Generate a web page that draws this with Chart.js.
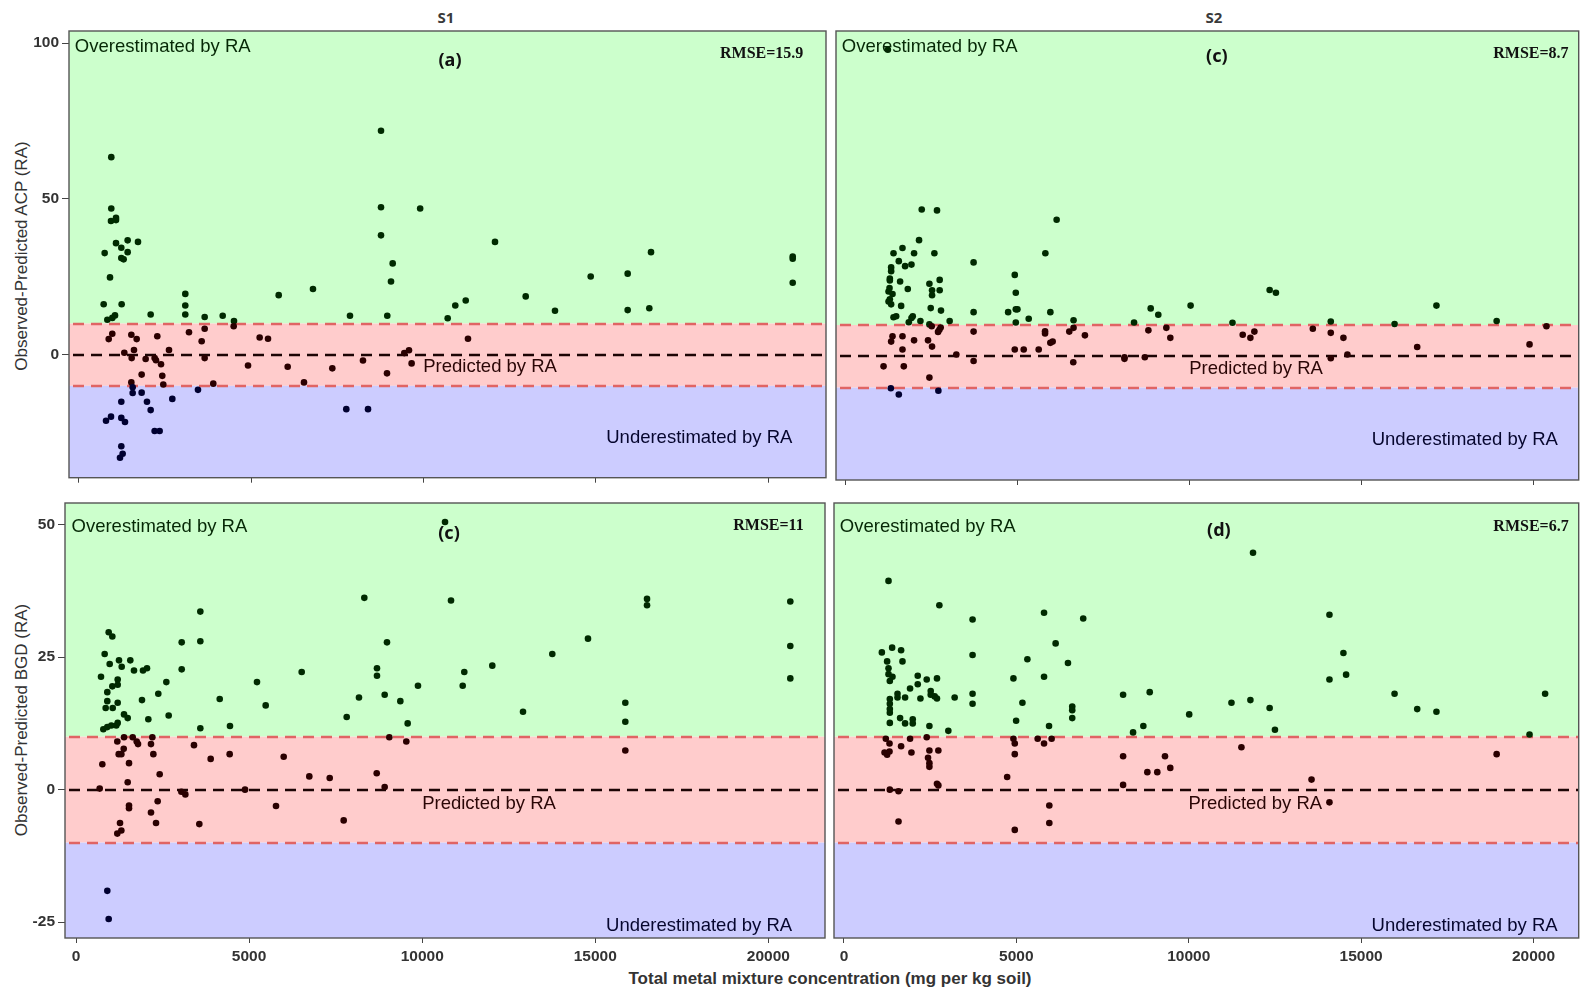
<!DOCTYPE html>
<html>
<head>
<meta charset="utf-8">
<title>Observed - predicted residuals, S1 / S2</title>
<script src="https://cdn.jsdelivr.net/npm/chart.js@4.4.1/dist/chart.umd.min.js"></script>
<style>
    html, body { margin: 0; padding: 0; background: #fff; }
    body { width: 1582px; height: 989px; position: relative; overflow: hidden; font-family: "Liberation Sans", Arial, sans-serif; }
    canvas { position: absolute; }
    .txt { position: absolute; white-space: nowrap; line-height: 1; transform: translate(-50%, -50%); }
    .strip { font-family: "Noto Sans", sans-serif; font-weight: bold; font-size: 15px; color: #3a3a3a; }
    .ytitle { font-size: 17px; color: #333; transform: translate(-50%, -50%) rotate(-90deg); }
    .xtitle { font-size: 17px; font-weight: bold; color: #333; }
</style>
</head>
<body>

<div class="txt strip" style="left:446px; top:17px;">S1</div>
<div class="txt strip" style="left:1214px; top:17px;">S2</div>
<div class="txt ytitle" style="left:21px; top:256px;">Observed-Predicted ACP (RA)</div>
<div class="txt ytitle" style="left:21px; top:720px;">Observed-Predicted BGD (RA)</div>
<div class="txt xtitle" style="left:830px; top:978px;">Total metal mixture concentration (mg per kg soil)</div>

<canvas id="panel-a" width="830" height="490" style="left:0; top:0;"></canvas>
<canvas id="panel-c" width="752" height="490" style="left:830px; top:0;"></canvas>
<canvas id="panel-b" width="829" height="499" style="left:0; top:490px;"></canvas>
<canvas id="panel-d" width="753" height="499" style="left:829px; top:490px;"></canvas>

<script>
// 축 눈금
const xTicks = [0, 5000, 10000, 15000, 20000];
const acpTicks = [100, 50, 0];
const bgdTicks = [50, 25, 0, -25];
const bandLines = [-10, 0, 10];

// S1, ACP  [concentration, observed - predicted]
const s1Acp = [
    [937, 63.4], [937, 46.9], [928, 42.9], [1074, 43.9], [1074, 43.2], [745, 32.6], [1074, 35.8],
    [1228, 34.3], [1412, 36.7], [1712, 36.2], [1412, 32.9], [1228, 31.0], [1296, 30.6], [900, 24.8],
    [716, 16.2], [1238, 16.2], [822, 11.2], [967, 11.8], [1045, 12.6], [2080, 12.9], [3085, 19.5],
    [3085, 15.8], [3085, 12.9], [3647, 12.1], [4170, 12.5], [4498, 10.8], [5795, 19.1], [6790, 21.1],
    [7864, 12.5], [8764, 71.9], [8764, 47.3], [8764, 38.3], [9103, 29.3], [9054, 23.5], [8946, 12.5],
    [9900, 46.9], [12072, 36.2], [10699, 11.7], [10920, 15.8], [11222, 17.4], [12963, 18.7],
    [13813, 14.1], [14849, 25.1], [15922, 26.0], [15922, 14.3], [16599, 32.9], [16550, 14.9],
    [20711, 31.5], [20711, 30.8], [20711, 23.1],
    [11288, 5.1], [9652, -2.8], [9440, 0.5], [9576, 1.4], [966, 6.7], [862, 5.0], [1519, 6.4],
    [1674, 5.0], [2272, 5.9], [1315, 0.6], [1596, 1.5], [1529, -1.1], [1934, -1.4], [2195, -1.1],
    [2234, -1.8], [2380, -3.1], [2417, -6.8], [2446, -9.6], [2612, 1.5], [1818, -6.4], [1519, -8.9],
    [3192, 7.2], [3560, 4.3], [3647, 8.3], [3647, -1.1], [3897, -9.3], [4489, 9.1], [4905, -3.5],
    [5243, 5.5], [5485, 5.1], [6056, -3.9], [6529, -8.9], [7351, -4.4], [8241, -1.9], [8938, -6.0],
    [1558, -10.5], [1558, -12.3], [1818, -12.2], [1228, -15.1], [1973, -15.1], [2080, -17.8],
    [2708, -14.2], [3453, -11.3], [784, -21.2], [929, -19.9], [1228, -20.3], [1335, -21.6],
    [2195, -24.5], [2340, -24.5], [1228, -29.4], [1267, -31.8], [1190, -33.1], [7757, -17.5], [8387, -17.5]
];

// S2, ACP
const s2Acp = [
    [1218, 97.9], [2204, 46.9], [2648, 46.6], [6128, 43.6], [2126, 37.1], [1644, 34.6], [1383, 32.9],
    [1981, 32.9], [2572, 32.9], [1537, 30.4], [1720, 28.8], [1905, 29.3], [1314, 28.4], [1314, 27.2],
    [1276, 24.8], [1276, 24.2], [1575, 23.9], [1267, 21.8], [1238, 20.7], [1354, 19.9], [1276, 18.2],
    [1238, 17.5], [1314, 16.6], [1798, 21.5], [1605, 16.1], [5800, 32.9], [3712, 30.0], [4910, 26.0],
    [4940, 20.3], [2427, 23.2], [2504, 21.1], [2504, 19.5], [2726, 24.4], [2726, 21.1], [2465, 15.4],
    [2764, 14.6], [3712, 14.1], [4717, 14.1], [4940, 15.0], [4988, 15.0], [5316, 12.0], [4940, 10.8],
    [5945, 14.1], [6620, 11.5], [8380, 10.8], [8864, 15.3], [9085, 13.3], [10025, 16.2], [1383, 12.5],
    [1460, 12.8], [1827, 10.9], [1905, 12.2], [1943, 12.8], [2166, 11.3], [3016, 11.3], [12324, 21.2],
    [12507, 20.3], [17176, 16.2], [11243, 10.7], [14102, 11.1], [15958, 10.3], [18927, 11.3], [20376, 9.6],
    [1354, 6.4], [1644, 6.4], [1314, 4.7], [1981, 5.1], [2387, 5.1], [1644, 2.2], [2504, 3.1],
    [2427, 10.2], [2494, 9.6], [2755, 9.2], [2717, 8.5], [2678, 7.8], [1093, -3.2], [1682, -3.2],
    [2427, -6.8], [3210, 0.6], [3712, 7.9], [3712, -1.5], [4910, 2.2], [5171, 2.2], [5606, 2.2],
    [5791, 8.0], [5791, 7.3], [5945, 4.3], [6012, 4.7], [6496, 7.9], [6620, 9.1], [6951, 6.7],
    [6612, -1.9], [8101, -0.3], [8101, -0.8], [8693, -0.3], [8797, 8.3], [9319, 9.1], [9435, 5.9],
    [11541, 6.9], [11764, 5.9], [11880, 7.9], [13580, 8.8], [14102, 7.5], [14470, 5.9], [14586, 0.6],
    [14102, -0.6], [16616, 3.0], [19884, 3.8],
    [1305, -10.2], [1537, -12.2], [2688, -11.0]
];

// S1, BGD
const s1Bgd = [
    [10659, 50.5], [8328, 36.2], [3591, 33.6], [10832, 35.7], [16494, 36.0], [16494, 34.8], [20633, 35.5],
    [3053, 27.8], [3591, 28.0], [8983, 27.8], [944, 29.7], [1049, 28.9], [14789, 28.5], [20633, 27.1],
    [828, 25.6], [13758, 25.6], [973, 23.7], [1242, 24.4], [1320, 23.2], [1568, 24.4], [1675, 22.5],
    [1935, 22.5], [2051, 22.9], [3053, 22.7], [6519, 22.2], [12025, 23.4], [11216, 22.2], [722, 21.3],
    [5228, 20.3], [2609, 20.3], [8694, 22.9], [8694, 21.5], [20633, 21.0], [9878, 19.6], [11170, 19.6],
    [1204, 20.8], [1049, 19.5], [1204, 19.8], [904, 18.4], [2377, 18.1], [1204, 16.4], [904, 16.7],
    [1906, 16.9], [4151, 17.1], [857, 15.4], [1060, 15.4], [5479, 15.9], [8174, 17.4], [8916, 17.9],
    [9368, 16.7], [15867, 16.4], [1387, 14.2], [1493, 13.5], [2677, 14.0], [2089, 13.3], [7819, 13.7],
    [12912, 14.7], [15867, 12.8], [4448, 12.0], [9580, 12.5], [3591, 11.6], [789, 11.4], [904, 11.8],
    [1020, 12.1], [1164, 12.1], [1204, 12.6],
    [9050, 9.9], [9541, 9.1], [15867, 7.4], [8686, 3.1], [8916, 0.5], [6739, 2.5], [7328, 2.2],
    [5999, 6.2], [4882, 0.0], [5777, -3.1], [7732, -5.8], [3890, 5.8], [4439, 6.7], [3408, 8.4],
    [2417, 2.9], [684, 0.2], [760, 4.8], [1193, 9.1], [1387, 9.9], [1638, 9.9], [1791, 8.6],
    [1753, 9.1], [2166, 8.6], [2205, 9.9], [2234, 6.7], [1233, 6.7], [1310, 6.7], [1378, 7.7],
    [1531, 5.0], [1493, 1.4], [3043, -0.4], [3158, -0.9], [2359, -2.2], [1531, -3.0], [1531, -3.5],
    [2166, -4.3], [2311, -6.3], [3562, -6.5], [1271, -6.3], [1193, -8.3], [1310, -7.7],
    [904, -19.1], [944, -24.4]
];

// S2, BGD
const s2Bgd = [
    [1292, 39.4], [2767, 34.8], [3730, 32.1], [5803, 33.4], [6939, 32.3], [6139, 27.6], [3730, 25.4],
    [5320, 24.6], [6497, 23.9], [1099, 25.9], [1397, 26.8], [1657, 26.3], [1697, 24.2], [4915, 21.0],
    [5803, 21.3], [2140, 21.5], [2400, 20.8], [2698, 21.0], [2140, 19.9], [1917, 19.1], [2218, 17.2],
    [1553, 18.1], [1773, 17.4], [1553, 17.4], [2516, 18.6], [2516, 17.9], [2631, 17.6], [2698, 17.2],
    [3210, 17.4], [3730, 18.1], [3730, 16.2], [5176, 16.4], [4993, 13.0], [6621, 15.7], [6621, 15.0],
    [6621, 13.5], [8096, 17.9], [8868, 18.4], [10013, 14.2], [5948, 12.0], [8385, 10.8], [8683, 12.0],
    [3027, 11.1], [2478, 12.0], [1628, 13.5], [1773, 12.5], [1995, 13.3], [1995, 12.5], [1330, 17.1],
    [1330, 16.2], [1330, 15.2], [1330, 14.5], [1330, 12.6], [1252, 24.2], [1292, 22.9], [1292, 21.8],
    [1407, 21.3], [1330, 20.5], [11864, 44.7], [14081, 33.0], [14486, 25.8], [14564, 21.7], [14081, 20.8],
    [11239, 16.4], [11788, 16.9], [12346, 15.4], [12500, 11.3], [15969, 18.1], [16626, 15.2],
    [17184, 14.7], [20336, 18.1], [19884, 10.4],
    [1214, 9.6], [1321, 8.7], [1657, 8.2], [1917, 9.6], [1957, 7.0], [1177, 7.0], [1252, 6.6],
    [1321, 7.2], [2400, 9.9], [2478, 7.4], [2438, 6.0], [2478, 5.0], [2478, 4.3], [2738, 7.4],
    [2698, 1.1], [2738, 0.8], [1330, 0.0], [1582, -0.3], [1582, -6.0], [4733, 2.4], [4915, 9.6],
    [4954, 8.7], [4954, 6.7], [5618, 9.6], [5803, 8.7], [6023, 9.6], [5956, -3.0], [5956, -6.3],
    [4954, -7.6], [8096, 6.3], [8096, 0.9], [9311, 6.3], [9464, 4.1], [8799, 3.3], [9088, 3.3],
    [11528, 8.0], [18930, 6.7], [13561, 1.9], [14081, -2.4]
];

const labelStyles = {
    over:  { font: '18.5px "Liberation Sans", Arial, sans-serif', color: '#062806' },
    pred:  { font: '18.5px "Liberation Sans", Arial, sans-serif', color: '#2a0606' },
    under: { font: '18.5px "Liberation Sans", Arial, sans-serif', color: '#06062e' },
    tag:   { font: 'bold 18px "Noto Sans", sans-serif', color: '#111' },
    rmse:  { font: 'bold 16px "Liberation Serif", "Times New Roman", serif', color: '#111' }
};

function regionColor(v) {
    if (v > 10) return 'rgb(0,42,0)';
    if (v < -10) return 'rgb(0,0,48)';
    return 'rgb(42,0,0)';
}

// 배경 띠, 점선, 글자, 테두리
const panelDecor = {
    id: 'panelDecor',
    beforeDatasetsDraw(chart) {
        const { ctx, chartArea: a, scales: { y } } = chart;
        const yHi = y.getPixelForValue(10);
        const yLo = y.getPixelForValue(-10);
        ctx.save();
        ctx.fillStyle = '#CCFFCC';
        ctx.fillRect(a.left, a.top, a.width, yHi - a.top);
        ctx.fillStyle = '#FFCCCC';
        ctx.fillRect(a.left, yHi, a.width, yLo - yHi);
        ctx.fillStyle = '#CCCCFF';
        ctx.fillRect(a.left, yLo, a.width, a.bottom - yLo);

        ctx.lineWidth = 2.3;
        ctx.setLineDash([11, 7]);
        bandLines.forEach(v => {
            const py = Math.round(y.getPixelForValue(v));
            ctx.strokeStyle = v === 0 ? '#1c0404' : '#E06464';
            ctx.beginPath();
            ctx.moveTo(a.left + 4, py);
            ctx.lineTo(a.right, py);
            ctx.stroke();
        });
        ctx.restore();
    },
    afterDatasetsDraw(chart, args, opts) {
        const { ctx, scales: { x, y } } = chart;
        ctx.save();
        ctx.textBaseline = 'middle';
        (opts.labels || []).forEach(l => {
            const st = labelStyles[l.style];
            ctx.font = st.font;
            ctx.fillStyle = st.color;
            ctx.textAlign = l.align || 'center';
            ctx.fillText(l.text, x.getPixelForValue(l.x), y.getPixelForValue(l.y) + 1);
        });
        ctx.restore();
    },
    afterDraw(chart) {
        const { ctx, chartArea: a } = chart;
        ctx.save();
        ctx.strokeStyle = '#555';
        ctx.lineWidth = 1.4;
        ctx.strokeRect(a.left, a.top, a.width, a.height);
        ctx.restore();
    }
};

function makePanel(id, points, cfg) {
    const tickFont = { family: '"Liberation Sans", Arial, sans-serif', size: 15.5, weight: 'bold' };
    return new Chart(document.getElementById(id), {
        type: 'scatter',
        data: {
            datasets: [{
                data: points.map(p => ({ x: p[0], y: p[1] })),
                pointRadius: 3.3,
                pointHoverRadius: 3.3,
                borderWidth: 0,
                backgroundColor: c => regionColor(c.raw ? c.raw.y : 0)
            }]
        },
        options: {
            responsive: false,
            animation: false,
            events: [],
            layout: { padding: { top: cfg.padTop, right: cfg.padRight, left: 0, bottom: 0 } },
            plugins: {
                legend: { display: false },
                tooltip: { enabled: false },
                panelDecor: { labels: cfg.labels }
            },
            scales: {
                x: {
                    type: 'linear',
                    min: cfg.xMin,
                    max: cfg.xMax,
                    afterBuildTicks: s => { s.ticks = xTicks.map(v => ({ value: v })); },
                    afterFit: s => { s.height = cfg.xHeight; },
                    border: { display: false },
                    grid: { drawOnChartArea: false, drawTicks: true, tickLength: 5, color: '#444' },
                    ticks: {
                        display: cfg.xLabels,
                        autoSkip: false,
                        maxRotation: 0,
                        padding: 4,
                        color: '#333',
                        font: tickFont,
                        callback: v => String(v)
                    }
                },
                y: {
                    type: 'linear',
                    min: cfg.yMin,
                    max: cfg.yMax,
                    afterBuildTicks: s => { s.ticks = cfg.yTicks.map(v => ({ value: v })); },
                    afterFit: s => { s.width = cfg.yWidth; },
                    border: { display: false },
                    grid: { display: cfg.yLabels, drawOnChartArea: false, drawTicks: true, tickLength: 7, color: '#444' },
                    ticks: {
                        display: cfg.yLabels,
                        autoSkip: false,
                        padding: 3,
                        color: '#333',
                        font: tickFont,
                        callback: v => String(v)
                    }
                }
            }
        },
        plugins: [panelDecor]
    });
}

makePanel('panel-a', s1Acp, {
    padTop: 31, padRight: 4, xHeight: 10, yWidth: 69,
    xMin: -290, xMax: 21677, yMin: -39.5, yMax: 103.9, yTicks: acpTicks,
    xLabels: false, yLabels: true,
    labels: [
        { text: 'Overestimated by RA', x: -120, y: 99.0, style: 'over', align: 'left' },
        { text: 'Predicted by RA', x: 11930, y: -3.6, style: 'pred' },
        { text: 'Underestimated by RA', x: 18000, y: -26.3, style: 'under' },
        { text: '(a)', x: 10766, y: 94.6, style: 'tag' },
        { text: 'RMSE=15.9', x: 21020, y: 97, style: 'rmse', align: 'right' }
    ]
});

makePanel('panel-c', s2Acp, {
    padTop: 31, padRight: 1, xHeight: 10, yWidth: 6,
    xMin: -290, xMax: 21314, yMin: -39.5, yMax: 103.9, yTicks: acpTicks,
    xLabels: false, yLabels: false,
    labels: [
        { text: 'Overestimated by RA', x: -120, y: 99.0, style: 'over', align: 'left' },
        { text: 'Predicted by RA', x: 11930, y: -3.6, style: 'pred' },
        { text: 'Underestimated by RA', x: 18000, y: -26.3, style: 'under' },
        { text: '(c)', x: 10787, y: 96.1, style: 'tag' },
        { text: 'RMSE=8.7', x: 21020, y: 97, style: 'rmse', align: 'right' }
    ]
});

makePanel('panel-b', s1Bgd, {
    padTop: 13, padRight: 4, xHeight: 51, yWidth: 65,
    xMin: -318, xMax: 21635, yMin: -28.0, yMax: 54.1, yTicks: bgdTicks,
    xLabels: true, yLabels: true,
    labels: [
        { text: 'Overestimated by RA', x: -130, y: 49.8, style: 'over', align: 'left' },
        { text: 'Predicted by RA', x: 11930, y: -2.5, style: 'pred' },
        { text: 'Underestimated by RA', x: 18000, y: -25.5, style: 'under' },
        { text: '(c)', x: 10774, y: 48.5, style: 'tag' },
        { text: 'RMSE=11', x: 21020, y: 50, style: 'rmse', align: 'right' }
    ]
});

makePanel('panel-d', s2Bgd, {
    padTop: 13, padRight: 1, xHeight: 51, yWidth: 5,
    xMin: -289, xMax: 21310, yMin: -28.0, yMax: 54.1, yTicks: bgdTicks,
    xLabels: true, yLabels: false,
    labels: [
        { text: 'Overestimated by RA', x: -120, y: 49.8, style: 'over', align: 'left' },
        { text: 'Predicted by RA', x: 11930, y: -2.5, style: 'pred' },
        { text: 'Underestimated by RA', x: 18000, y: -25.5, style: 'under' },
        { text: '(d)', x: 10872, y: 49.1, style: 'tag' },
        { text: 'RMSE=6.7', x: 21020, y: 49.8, style: 'rmse', align: 'right' }
    ]
});
</script>
</body>
</html>
